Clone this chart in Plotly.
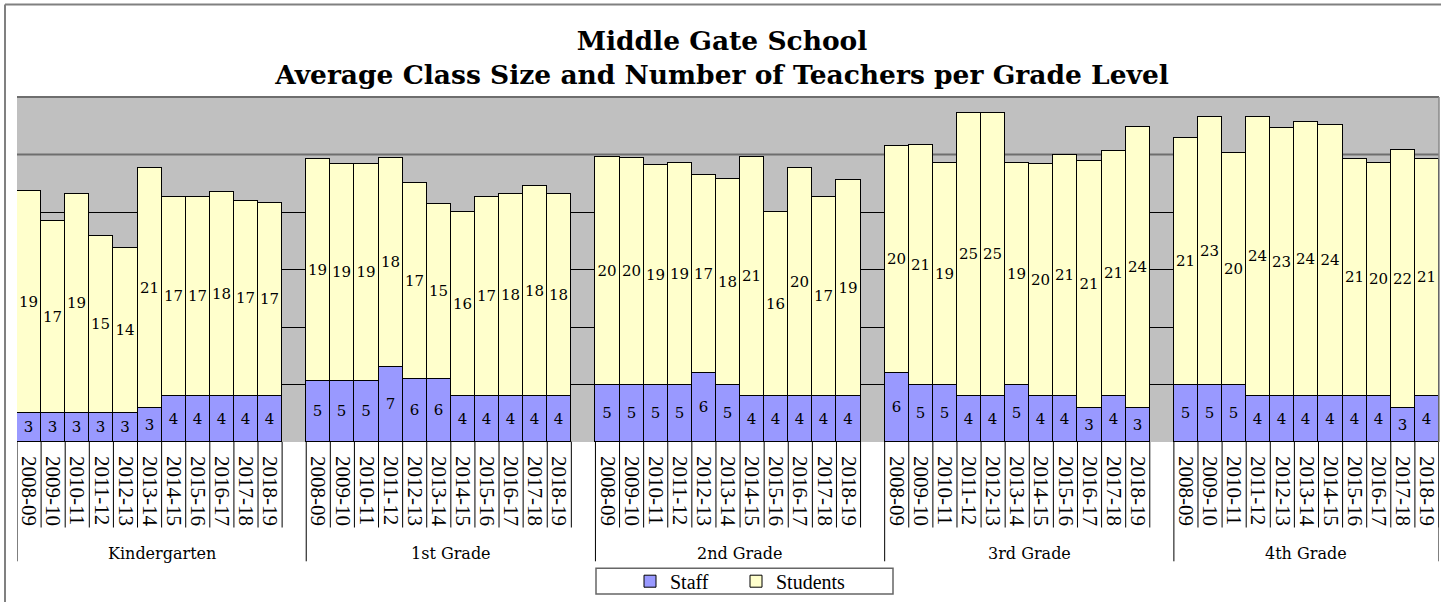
import plotly.graph_objects as go

# ---------------- data ----------------
groups = ["Kindergarten", "1st Grade", "2nd Grade", "3rd Grade", "4th Grade"]
years = ["2008-09", "2009-10", "2010-11", "2011-12", "2012-13", "2013-14",
         "2014-15", "2015-16", "2016-17", "2017-18", "2018-19"]

staff_k = [2.5, 2.5, 2.5, 2.5, 2.5, 3, 4, 4, 4, 4, 4]
students_k = [19.3, 16.7, 19.1, 15.4, 14.4, 20.8, 17.3, 17.3, 17.7, 17.0, 16.8]
staff_1 = [5.3, 5.3, 5.3, 6.5, 5.5, 5.5, 4, 4, 4, 4, 4]
students_1 = [19.3, 18.9, 18.9, 18.2, 17.0, 15.2, 16.0, 17.3, 17.6, 18.3, 17.6]
staff_2 = [5, 5, 5, 5, 6, 5, 4, 4, 4, 4, 4]
students_2 = [19.8, 19.7, 19.1, 19.3, 17.2, 17.9, 20.8, 16.0, 19.8, 17.3, 18.8]
staff_3 = [6, 5, 5, 4, 4, 5, 4, 4, 3, 4, 3]
students_3 = [19.7, 20.8, 19.3, 24.6, 24.6, 19.3, 20.2, 21.0, 21.4, 21.3, 24.4]
staff_4 = [5, 5, 5, 4, 4, 4, 4, 4, 4, 3, 4]
students_4 = [21.4, 23.3, 20.1, 24.3, 23.3, 23.8, 23.6, 20.6, 20.3, 22.4, 20.6]

staff_by_group = [staff_k, staff_1, staff_2, staff_3, staff_4]
students_by_group = [students_k, students_1, students_2, students_3, students_4]

# ---------------- layout helpers ----------------
SLOT = len(years) + 1          # one empty slot between grade groups
xpos, staff, students, ticktext = [], [], [], []
for g, grp in enumerate(groups):
    for i, yr in enumerate(years):
        xpos.append(g * SLOT + i)
        staff.append(staff_by_group[g][i])
        students.append(students_by_group[g][i])
        ticktext.append(yr)

xmin = -0.5
xmax = (len(groups) - 1) * SLOT + len(years) - 0.5

W, H = 1441, 602
ML, MR, MT, MB = 17, 2, 97, 158
PW, PH = W - ML - MR, H - MT - MB

def px_x(page_x):
    return (page_x - ML) / PW

def px_y(page_y):
    return 1 - (page_y - MT) / PH

SERIF_G = "Georgia, 'DejaVu Serif', serif"
SERIF_T = "'Liberation Serif', 'Times New Roman', serif"
LABEL_FONT = dict(family=SERIF_G, size=15, color="black")

fig = go.Figure()
fig.add_trace(go.Bar(
    name="Staff", x=xpos, y=staff, legend="legend",
    marker=dict(color="#9999FF", line=dict(color="black", width=1)),
    texttemplate="%{y:.0f}", textposition="inside", insidetextanchor="middle",
    textangle=0, textfont=LABEL_FONT, hoverinfo="skip",
))
fig.add_trace(go.Bar(
    name="Students", x=xpos, y=students, legend="legend2",
    marker=dict(color="#FFFFCC", line=dict(color="black", width=1)),
    texttemplate="%{y:.0f}", textposition="inside", insidetextanchor="middle",
    textangle=0, textfont=LABEL_FONT, hoverinfo="skip",
))

shapes = []
SHORT = px_y(530)
LONG = px_y(564)
for g in range(len(groups)):
    start = g * SLOT - 0.5
    for i in range(len(years) + 1):
        xb = start + i
        shapes.append(dict(type="line", xref="x", yref="paper", x0=xb, x1=xb,
                           y0=0, y1=(LONG if i == 0 else SHORT),
                           line=dict(color="black", width=1)))
    shapes.append(dict(type="line", xref="x", yref="y", x0=start, x1=start + len(years),
                       y0=0, y1=0, line=dict(color="black", width=2)))
shapes.append(dict(type="line", xref="x", yref="paper", x0=xmax, x1=xmax,
                   y0=0, y1=LONG, line=dict(color="black", width=1)))
# gray gridline at 25 and top / right plot border
shapes.append(dict(type="line", xref="paper", yref="y", x0=0, x1=1, y0=25, y1=25,
                   layer="between", line=dict(color="#6e6e6e", width=2)))
shapes.append(dict(type="line", xref="paper", yref="paper", x0=0, x1=1, y0=1, y1=1,
                   line=dict(color="#6e6e6e", width=2)))
shapes.append(dict(type="line", xref="paper", yref="paper", x0=1, x1=1, y0=0, y1=1,
                   line=dict(color="#8a8a8a", width=1.5)))
# outer chart border
bx = px_x(5)
by = px_y(4)
shapes.append(dict(type="line", xref="paper", yref="paper", x0=bx, x1=bx,
                   y0=by, y1=px_y(610), line=dict(color="#808080", width=2)))
shapes.append(dict(type="line", xref="paper", yref="paper", x0=bx, x1=px_x(1445),
                   y0=by, y1=by, line=dict(color="#808080", width=2)))
# legend box
shapes.append(dict(type="rect", xref="paper", yref="paper",
                   x0=px_x(596), x1=px_x(893), y0=px_y(571), y1=px_y(597),
                   line=dict(color="#666666", width=1.5), fillcolor="rgba(0,0,0,0)"))

annotations = []
for g, grp in enumerate(groups):
    start = g * SLOT - 0.5
    end = min(start + SLOT, xmax)
    annotations.append(dict(text=grp, xref="x", yref="paper", x=(start + end) / 2,
                            y=px_y(556), showarrow=False, yanchor="middle",
                            font=dict(family=SERIF_G, size=16, color="black")))

legend_common = dict(orientation="h", xanchor="left", y=px_y(584), yanchor="middle",
                     bgcolor="rgba(0,0,0,0)", borderwidth=0,
                     font=dict(family=SERIF_T, size=20, color="black"))

fig.update_layout(
    width=W, height=H,
    barmode="stack", bargap=0,
    paper_bgcolor="white", plot_bgcolor="#C0C0C0",
    margin=dict(l=ML, r=MR, t=MT, b=MB),
    title=dict(text="Middle Gate School<br>Average Class Size and Number of Teachers per Grade Level",
               x=722 / W, xref="container", xanchor="center",
               y=1 - 50 / H, yref="container", yanchor="middle",
               font=dict(family=SERIF_G, size=26.5, color="black", weight="bold")),
    xaxis=dict(range=[xmin, xmax], tickmode="array", tickvals=xpos, ticktext=ticktext,
               tickangle=90, ticks="", showgrid=False, zeroline=False, showline=False,
               ticklabelstandoff=13,
               tickfont=dict(family=SERIF_T, size=21, color="black")),
    yaxis=dict(range=[0, 30], tickmode="array", tickvals=[5, 10, 15, 20],
               showticklabels=False, ticks="", gridcolor="black", gridwidth=1,
               zeroline=False, showline=False),
    showlegend=True,
    legend=dict(x=px_x(630), **legend_common),
    legend2=dict(x=px_x(736), **legend_common),
    uniformtext=dict(mode="show", minsize=15),
    shapes=shapes, annotations=annotations,
)

fig.write_html("out.html", config={"displayModeBar": False},
               post_script="document.body.style.margin='0';document.body.style.overflow='hidden';")
